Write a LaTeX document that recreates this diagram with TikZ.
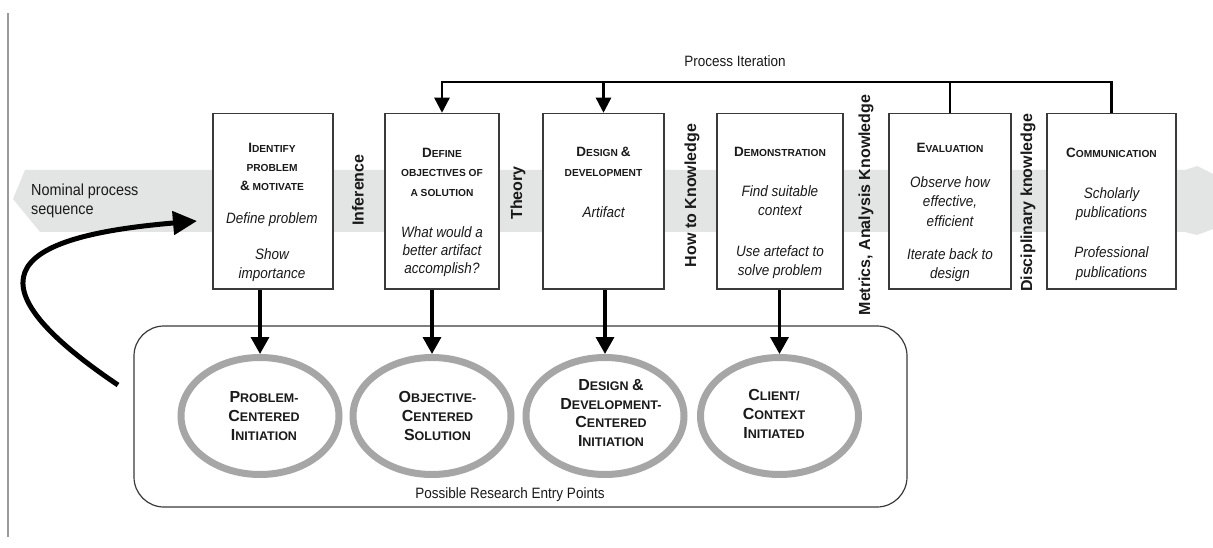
\documentclass[tikz,border=0pt]{standalone}
\usepackage{fontspec}
\setmainfont{Liberation Sans}
\newfontfamily\nrw{Liberation Sans}[FakeStretch=0.9]
\usetikzlibrary{arrows.meta,calc,shapes.geometric}

\definecolor{bandgray}{HTML}{E3E4E4}
\definecolor{ringgray}{HTML}{A6A6A6}
\definecolor{boxline}{HTML}{3A3A3A}
\definecolor{ink}{HTML}{1A1A1A}
\definecolor{rule}{HTML}{9A9A9A}

% fake small caps: large initial, smaller capitals
\newcommand\TitBig[1]{{\bfseries\fontsize{13.5}{16}\selectfont #1}}
\newcommand\TitSm[1]{{\bfseries\fontsize{10.2}{12}\selectfont #1}}
\newcommand\EllBig[1]{{\bfseries\fontsize{16}{19}\selectfont #1}}
\newcommand\EllSm[1]{{\bfseries\fontsize{12.5}{15}\selectfont #1}}

% stacked lines of text: name, style, x, first baseline, line step, lines
\newcommand\TextLines[6]{%
  \foreach \lineitem [count=\lineno] in {#6}{%
    \node[#2, anchor=base, inner sep=0pt] (#1-\lineno) at (#3, {#4+(\lineno-1)*(#5)}) {\lineitem};
  }%
}

\begin{document}
\begin{tikzpicture}[x=1pt,y=-1pt,
  pbox/.style={draw=boxline, line width=1.5pt, fill=white, minimum height=175.5pt, inner sep=0pt},
  ring/.style={draw=ringgray, line width=7pt, ellipse, minimum width=158pt, minimum height=117pt, inner sep=0pt},
  entrybox/.style={draw=boxline, line width=1.2pt, rounded corners=30pt, minimum width=773pt, minimum height=181pt, inner sep=0pt},
  downarrow/.style={draw=black, line width=3.4pt, -{Triangle[length=17pt,width=18pt]}},
  iterline/.style={draw=black, line width=2.4pt},
  iterarrow/.style={iterline, -{Triangle[length=15pt,width=15pt]}},
  curvearrow/.style={draw=black, line width=5pt, -{Triangle[length=24pt,width=23pt]}},
  sidelabel/.style={rotate=90, font=\bfseries\fontsize{16}{19}\selectfont, inner sep=0pt, text=ink},
  titletxt/.style={text=ink},
  itx/.style={font=\nrw\itshape\fontsize{15}{18}\selectfont, text=ink},
  plain/.style={font=\nrw\fontsize{15}{18}\selectfont, text=ink},
]
\useasboundingbox (0,0) rectangle (1213,548);
\fill[white] (0,0) rectangle (1213,548);

% page rule at the left
\draw[rule, line width=1.4pt] (8,13) -- (8,537);

% nominal process sequence band
\fill[bandgray] (25,170) -- (1185,170) -- (1197,166) -- (1213,174) -- (1213,229)
  -- (1197,235) -- (1185,232) -- (40,232) -- (13,199) -- cycle;
\node[font=\nrw\fontsize{16}{19}\selectfont, text=ink, anchor=base west, inner sep=0pt] (nom1) at (31,196) {Nominal process};
\node[font=\nrw\fontsize{16}{19}\selectfont, text=ink, anchor=base west, inner sep=0pt] (nom2) at (31,215) {sequence};

% process activity boxes
\node[pbox, minimum width=120pt] (b1) at (273,201.25) {};
\node[pbox, minimum width=114pt] (b2) at (442,201.25) {};
\node[pbox, minimum width=121pt] (b3) at (603.5,201.25) {};
\node[pbox, minimum width=126pt] (b4) at (780,201.25) {};
\node[pbox, minimum width=122pt] (b5) at (950,201.25) {};
\node[pbox, minimum width=129pt] (b6) at (1111.5,201.25) {};

\TextLines{b1t}{titletxt}{272}{152.5}{19}{{\TitBig{I}\TitSm{DENTIFY}},{\TitSm{PROBLEM}},{\TitBig{\&}\TitSm{ MOTIVATE}}}
\TextLines{b1a}{itx}{272}{224}{19}{Define problem}
\TextLines{b1b}{itx}{272}{260}{19}{Show,importance}

\TextLines{b2t}{titletxt}{442}{157.5}{19.5}{{\TitBig{D}\TitSm{EFINE}},{\TitSm{OBJECTIVES OF}},{\TitSm{A SOLUTION}}}
\TextLines{b2a}{itx}{442}{237}{18}{What would a,better artifact,accomplish?}

\TextLines{b3t}{titletxt}{603.5}{156.5}{20}{{\TitBig{D}\TitSm{ESIGN }\TitBig{\&}},{\TitSm{DEVELOPMENT}}}
\TextLines{b3a}{itx}{603.5}{218}{19}{Artifact}

\TextLines{b4t}{titletxt}{780}{156.5}{19}{{\TitBig{D}\TitSm{EMONSTRATION}}}
\TextLines{b4a}{itx}{780}{197}{18.5}{Find suitable,context}
\TextLines{b4b}{itx}{780}{257}{19}{Use artefact to,solve problem}

\TextLines{b5t}{titletxt}{950}{152.5}{19}{{\TitBig{E}\TitSm{VALUATION}}}
\TextLines{b5a}{itx}{950}{188}{19}{Observe how,{effective,},efficient}
\TextLines{b5b}{itx}{950}{260}{19}{Iterate back to,design}

\TextLines{b6t}{titletxt}{1111.5}{157.5}{19}{{\TitBig{C}\TitSm{OMMUNICATION}}}
\TextLines{b6a}{itx}{1111.5}{199}{19}{Scholarly,publications}
\TextLines{b6b}{itx}{1111.5}{258}{19}{Professional,publications}

% knowledge labels between the boxes
\node[sidelabel] (k1) at (358,190) {Inference};
\node[sidelabel] (k2) at (518,193) {Theory};
\node[sidelabel] (k3) at (692,195.5) {How to Knowledge};
\node[sidelabel] (k4) at (866,205) {Metrics, Analysis Knowledge};
\node[sidelabel] (k5) at (1028,203) {Disciplinary knowledge};

% process iteration feedback
\coordinate (iter) at (0,82);
\node[plain, anchor=base, inner sep=0pt] (itlabel) at (735,67) {Process Iteration};
\draw[iterarrow] (b6.north) -- (b6.north |- iter) -- (b2.north |- iter) -- (b2.north);
\draw[iterline] (b5.north |- iter) -- (b5.north);
\draw[iterarrow] (b3.north |- iter) -- (b3.north);

% research entry points
\node[entrybox] (entry) at (520.5,416.5) {};
\node[plain, anchor=base, inner sep=0pt] (entrylabel) at (510,498) {Possible Research Entry Points};

\node[ring] (e1) at (260,416) {};
\node[ring] (e2) at (432,416) {};
\node[ring] (e3) at (605,416) {};
\node[ring] (e4) at (779.5,416) {};

\TextLines{e1t}{titletxt}{264}{402.5}{19}{{\EllBig{P}\EllSm{ROBLEM-}},{\EllBig{C}\EllSm{ENTERED}},{\EllBig{I}\EllSm{NITIATION}}}
\TextLines{e2t}{titletxt}{437.5}{402.5}{19}{{\EllBig{O}\EllSm{BJECTIVE-}},{\EllBig{C}\EllSm{ENTERED}},{\EllBig{S}\EllSm{OLUTION}}}
\TextLines{e3t}{titletxt}{611}{390.5}{18.7}{{\EllBig{D}\EllSm{ESIGN }\EllBig{\&}},{\EllBig{D}\EllSm{EVELOPMENT-}},{\EllBig{C}\EllSm{ENTERED}},{\EllBig{I}\EllSm{NITIATION}}}
\TextLines{e4t}{titletxt}{774}{400.5}{19}{{\EllBig{C}\EllSm{LIENT/}},{\EllBig{C}\EllSm{ONTEXT}},{\EllBig{I}\EllSm{NITIATED}}}

\draw[downarrow] (e1.north |- b1.south) -- (e1.north);
\draw[downarrow] (e2.north |- b2.south) -- (e2.north);
\draw[downarrow] (e3.north |- b3.south) -- (e3.north);
\draw[downarrow] (e4.north |- b4.south) -- (e4.north);

% entry sweep into the process
\coordinate (cstart) at (118,385);
\coordinate (ctip) at (197,221);
\draw[curvearrow] (cstart) .. controls (-45,275) and (20,236) .. (ctip);
\end{tikzpicture}
\end{document}
